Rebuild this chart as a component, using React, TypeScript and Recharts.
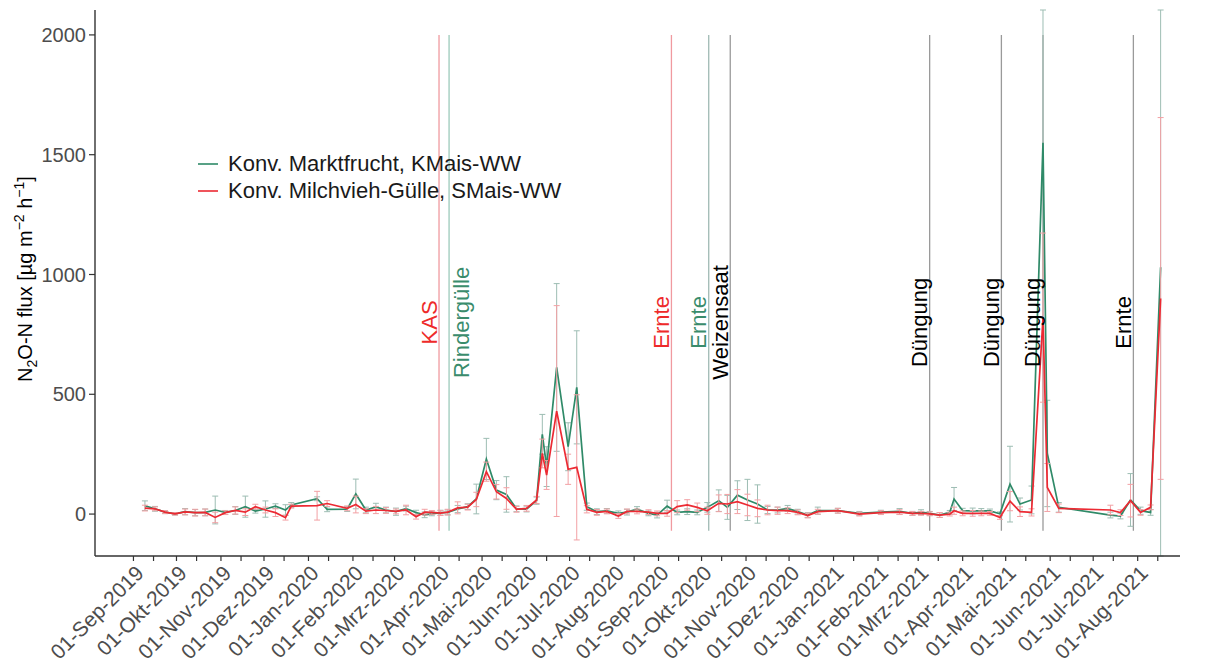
import React from 'react';
import { ComposedChart, Line, XAxis, YAxis, ReferenceLine, ReferenceDot, ErrorBar, Legend } from 'recharts';

const FONT = '"Liberation Sans", Arial, Helvetica, sans-serif';

// ---------- data ----------
const sampleDates = [
  '2019-09-09','2019-09-16','2019-09-23','2019-09-30','2019-10-07','2019-10-14','2019-10-21','2019-10-28','2019-11-04','2019-11-11','2019-11-18','2019-11-25','2019-12-02','2019-12-09','2019-12-16','2019-12-20',
  '2020-01-07','2020-01-14','2020-01-28','2020-02-03','2020-02-10','2020-02-17','2020-02-24','2020-03-02','2020-03-09','2020-03-16','2020-03-22','2020-03-27','2020-04-02','2020-04-07','2020-04-14','2020-04-21',
  '2020-04-27','2020-05-04','2020-05-11','2020-05-18','2020-05-25','2020-06-01','2020-06-08','2020-06-12','2020-06-15','2020-06-22','2020-06-30','2020-07-06','2020-07-13','2020-07-20','2020-07-27','2020-08-04','2020-08-10','2020-08-17','2020-08-25','2020-08-31',
  '2020-09-07','2020-09-14','2020-09-21','2020-09-28','2020-10-05','2020-10-13','2020-10-19','2020-10-26','2020-11-02','2020-11-09','2020-11-16','2020-11-23','2020-11-30','2020-12-07','2020-12-14','2020-12-21','2021-01-04','2021-01-19','2021-02-03','2021-02-16','2021-02-25',
  '2021-03-03','2021-03-09','2021-03-16','2021-03-23','2021-03-26','2021-04-01','2021-04-08','2021-04-14','2021-04-20','2021-04-27','2021-05-04','2021-05-11','2021-05-19','2021-05-27','2021-05-30','2021-06-07','2021-07-13','2021-07-20','2021-07-27','2021-08-03','2021-08-10','2021-08-17',
];

const marktfrucht = [
  35, 22, 8, 1, 10, 6, 7, 17, 7, 15, 31, 12, 21, 33, 17, 38,
  64, 20, 21, 84, 17, 30, 17, 10, 23, 6, -3, 1, 6, 7, 21, 31,
  63, 230, 100, 82, 22, 21, 56, 333, 198, 612, 281, 529, 31, 10, 13, 3, 8, 21, 3, -4,
  33, 7, 10, 7, 28, 56, 28, 79, 59, 42, 17, 17, 24, 10, -4, 14, 14, 3, 8, 11, 3,
  8, 3, -4, 7, 63, 14, 13, 13, 13, 1, 125, 42, 59, 1550, 253, 28, -4, -8, 59, 14, 7, 1030,
];

const milchvieh = [
  25, 22, 8, 1, 9, 6, 7, -14, 6, 15, 8, 31, 17, 6, -15, 33,
  35, 44, 24, 40, 12, 17, 15, 11, 17, -11, 8, 7, 4, 8, 26, 29,
  61, 177, 93, 65, 20, 24, 59, 253, 163, 430, 187, 195, 20, 7, 11, -8, 11, 11, 8, 3,
  3, 31, 38, 28, 14, 45, 42, 52, 38, 24, 17, 14, 14, 7, -6, 10, 14, 0, 6, 8, 3,
  3, 1, -4, 0, 14, 3, 3, 3, 3, -14, 54, 10, 7, 820, 111, 24, 17, 6, 56, 7, 28, 900,
];

const marktfruchtSd = [
  20, 10, 6, 5, 13, 13, 14, 58, 8, 16, 44, 8, 34, 10, 22, 10,
  8, 10, 10, 62, 12, 15, 12, 15, 10, 10, 12, 8, 10, 10, 15, 12,
  62, 86, 40, 74, 12, 12, 15, 83, 83, 350, 100, 236, 15, 12, 10, 10, 12, 10, 10, 12,
  25, 10, 12, 10, 20, 45, 50, 60, 86, 80, 15, 12, 12, 10, 10, 15, 10, 8, 8, 12, 8,
  10, 8, 10, 8, 48, 10, 12, 10, 8, 8, 158, 25, 58, 600, 222, 20, 12, 12, 110, 15, 12, 1250,
];

const milchviehSd = [
  12, 8, 6, 5, 12, 14, 14, 22, 8, 15, 14, 10, 12, 16, 10, 8,
  60, 12, 10, 35, 10, 15, 12, 10, 20, 10, 12, 8, 10, 12, 25, 12,
  30, 40, 30, 45, 12, 12, 15, 60, 60, 440, 63, 303, 15, 12, 10, 10, 10, 10, 10, 10,
  12, 25, 22, 18, 15, 35, 40, 50, 45, 35, 20, 15, 12, 10, 10, 10, 10, 8, 8, 10, 8,
  8, 8, 10, 8, 15, 10, 12, 10, 8, 8, 40, 20, 15, 353, 100, 18, 20, 12, 68, 12, 10, 755,
];

const seriesNames = ['Konv. Marktfrucht, KMais-WW', 'Konv. Milchvieh-Gülle, SMais-WW'];

const monthTickDates = [
  '2019-09-01','2019-10-01','2019-11-01','2019-12-01','2020-01-01','2020-02-01','2020-03-01','2020-04-01',
  '2020-05-01','2020-06-01','2020-07-01','2020-08-01','2020-09-01','2020-10-01','2020-11-01','2020-12-01',
  '2021-01-01','2021-02-01','2021-03-01','2021-04-01','2021-05-01','2021-06-01','2021-07-01','2021-08-01',
];
const monthTickLabels = [
  '01-Sep-2019','01-Okt-2019','01-Nov-2019','01-Dez-2019','01-Jan-2020','01-Feb-2020','01-Mrz-2020','01-Apr-2020',
  '01-Mai-2020','01-Jun-2020','01-Jul-2020','01-Aug-2020','01-Sep-2020','01-Okt-2020','01-Nov-2020','01-Dez-2020',
  '01-Jan-2021','01-Feb-2021','01-Mrz-2021','01-Apr-2021','01-Mai-2021','01-Jun-2021','01-Jul-2021','01-Aug-2021',
];
const yTicks = [0, 500, 1000, 1500, 2000];
const Y_DOMAIN: [number, number] = [-175, 2104];

const eventDates = ['2020-04-01','2020-04-08','2020-09-10','2020-10-06','2020-10-21','2021-03-09','2021-04-28','2021-05-27','2021-07-29'];
const eventLabels = ['KAS','Rindergülle','Ernte','Ernte','Weizensaat','Düngung','Düngung','Düngung','Ernte'];
const eventGroups = ['red','green','red','green2','black','black','black','black','black'];

// ---------- helpers ----------
const BASE = Date.UTC(2019, 8, 1);
const toDay = (s: string) => {
  const [y, m, d] = s.split('-').map(Number);
  return Math.round((Date.UTC(y, m - 1, d) - BASE) / 86400000);
};

// error bar extents, limited to the visible panel (like a clipped ggplot panel)
const clipErr = (v: number, e: number): [number, number] => [
  Math.min(e, v - Y_DOMAIN[0]),
  Math.min(e, Y_DOMAIN[1] - v),
];

const data = sampleDates.map((d, i) => ({
  t: toDay(d),
  g: marktfrucht[i],
  r: milchvieh[i],
  gErr: clipErr(marktfrucht[i], marktfruchtSd[i]),
  rErr: clipErr(milchvieh[i], milchviehSd[i]),
}));

const monthDays = monthTickDates.map(toDay);
const midDays = monthTickDates.map((d) => toDay(d.slice(0, 8) + '15'));
const allTicks = [...monthDays, ...midDays].sort((a, b) => a - b);
const labelByDay = new Map<number, string>(monthDays.map((d, i) => [d, monthTickLabels[i]]));

const GREEN = '#2f8a68';
const RED = '#ec2a33';
const lineColor: Record<string, string> = { red: '#f09a9f', green: '#9ccabb', green2: '#9fb9b3', black: '#9a9a9a' };
const textColor: Record<string, string> = { red: '#ee2a2a', green: '#3a8c6c', green2: '#3a8c6c', black: '#000000' };

const XTick = (props: any) => {
  const { x, y, payload } = props;
  const label = labelByDay.get(payload.value);
  if (!label) return null;
  return (
    <text x={x} y={y} transform={`rotate(-45 ${x} ${y})`} textAnchor="end" dy="0.78em"
      fontSize={21} fill="#4d4d4d" fontFamily={FONT}>{label}</text>
  );
};

const renderLegend = (props: any) => (
  <div style={{ fontFamily: FONT, fontSize: 22, color: '#1a1a1a' }}>
    {(props.payload || []).map((e: any) => (
      <div key={e.value} style={{ display: 'flex', alignItems: 'center', height: 27, whiteSpace: 'nowrap' }}>
        <svg width={31} height={10} style={{ flex: 'none' }}>
          <line x1={1} y1={5} x2={21} y2={5} stroke={e.color} strokeWidth={1.6} />
        </svg>
        <span>{e.value}</span>
      </div>
    ))}
  </div>
);

const YTitle = () => (
  <text transform="rotate(-90 32 279)" x={32} y={279} textAnchor="middle" fontSize={20} fill="#000" fontFamily={FONT}>
    N<tspan dy={5} fontSize={14}>2</tspan><tspan dy={-5}>O-N flux [µg m</tspan>
    <tspan dy={-8} fontSize={14}>−2</tspan><tspan dy={8}> h</tspan>
    <tspan dy={-8} fontSize={14}>−1</tspan><tspan dy={8}>]</tspan>
  </text>
);

export default function App() {
  return (
    <div style={{ position: 'absolute', left: 0, top: 0, width: 1214, height: 664, background: '#fff' }}>
      <ComposedChart width={1214} height={664} data={data}
        margin={{ top: 10, right: 34, left: 0, bottom: 0 }}>
        <XAxis dataKey="t" type="number" domain={[-26.8, 729.5]} allowDataOverflow
          ticks={allTicks} interval={0} tick={<XTick />} height={108}
          tickSize={5} tickMargin={2}
          axisLine={{ stroke: '#333', strokeWidth: 1.4 }} tickLine={{ stroke: '#333', strokeWidth: 1.2 }} />
        <YAxis type="number" domain={Y_DOMAIN} allowDataOverflow ticks={yTicks} width={95}
          tickSize={6} tickMargin={3} interval={0}
          tick={{ fontSize: 20, fill: '#4d4d4d', fontFamily: FONT }}
          axisLine={{ stroke: '#333', strokeWidth: 1.4 }} tickLine={{ stroke: '#333', strokeWidth: 1.2 }}
          label={{ content: () => <YTitle /> }} />
        {eventDates.map((d, i) => (
          <ReferenceLine key={'l' + i} segment={[{ x: toDay(d), y: -70 }, { x: toDay(d), y: 2000 }]}
            stroke={lineColor[eventGroups[i]]} strokeWidth={1.3} />
        ))}
        {eventDates.map((d, i) => (
          <ReferenceDot key={'t' + i} x={toDay(d)} y={800} r={0}
            shape={(p: any) => {
              const cx = p.cx + (eventLabels[i] === 'Rindergülle' ? 12 : -10);
              return (
                <text x={cx} y={p.cy} transform={`rotate(-90 ${cx} ${p.cy})`} textAnchor="middle"
                  dominantBaseline="central" fontSize={22} fill={textColor[eventGroups[i]]} fontFamily={FONT}>
                  {eventLabels[i]}
                </text>
              );
            }} />
        ))}
        <Line dataKey="g" name={seriesNames[0]} stroke={GREEN} strokeWidth={1.7} dot={false}
          isAnimationActive={false} type="linear">
          <ErrorBar dataKey="gErr" direction="y" width={3} stroke="#9dbdb3" strokeWidth={1} />
        </Line>
        <Line dataKey="r" name={seriesNames[1]} stroke={RED} strokeWidth={1.7} dot={false}
          isAnimationActive={false} type="linear">
          <ErrorBar dataKey="rErr" direction="y" width={3} stroke="#f2a0a4" strokeWidth={1} />
        </Line>
        <Legend layout="vertical" align="center" verticalAlign="middle" content={renderLegend}
          wrapperStyle={{ left: 197, top: 150, width: 'auto' }} />
      </ComposedChart>
    </div>
  );
}
